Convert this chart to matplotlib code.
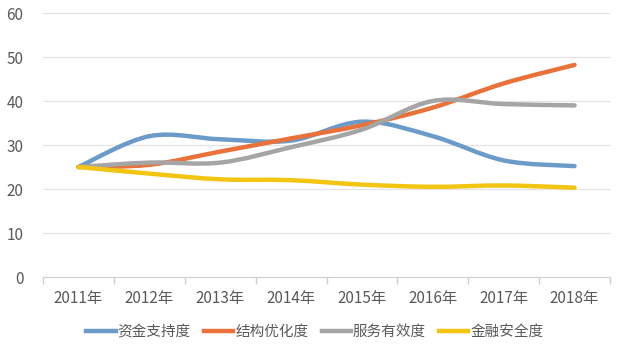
import matplotlib
matplotlib.use("Agg")
import matplotlib.pyplot as plt
from matplotlib.path import Path
from matplotlib.patches import PathPatch
from matplotlib.lines import Line2D
import numpy as np

plt.rcParams['font.family'] = ['Noto Sans CJK SC', 'DejaVu Sans']

years = ["2011年", "2012年", "2013年", "2014年", "2015年", "2016年", "2017年", "2018年"]
zijin = [25, 32, 31.3, 31, 35.3, 32, 26.5, 25.2]
jiegou = [25, 25.5, 28.5, 31.5, 34.5, 38.5, 44, 48.2]
fuwu = [25, 26, 26, 29.5, 33.5, 40, 39.3, 39]
jinrong = [25, 23.5, 22.2, 22, 21, 20.5, 20.8, 20.3]

names = ["资金支持度", "结构优化度", "服务有效度", "金融安全度"]
colors = ["#6B9BC8", "#E8723A", "#A5A5A5", "#F2C512"]


def smooth_path(xs, ys):
    # excel-like smoothed line: cubic bezier through each point
    pts = np.column_stack([xs, ys]).astype(float)
    n = len(pts)
    verts = [pts[0]]
    codes = [Path.MOVETO]
    for i in range(n - 1):
        p0 = pts[i - 1] if i > 0 else pts[i]
        p1 = pts[i]
        p2 = pts[i + 1]
        p3 = pts[i + 2] if i + 2 < n else pts[i + 1]
        c1 = p1 + (p2 - p0) / 6.0
        c2 = p2 - (p3 - p1) / 6.0
        verts += [c1, c2, p2]
        codes += [Path.CURVE4] * 3
    return Path(verts, codes)


fig = plt.figure(figsize=(6.4, 3.49), dpi=100)
ax = fig.add_axes([43 / 640, 72 / 349, 567 / 640, 264 / 349])

x = np.arange(len(years))
series = [zijin, jiegou, fuwu, jinrong]
for vals, c, nm in zip(series, colors, names):
    patch = PathPatch(smooth_path(x, vals), facecolor="none", edgecolor=c,
                      lw=3.2, capstyle="round", joinstyle="round", zorder=3)
    ax.add_patch(patch)

ax.set_xlim(-0.5, 7.5)
ax.set_ylim(0, 60)
ax.set_yticks(range(0, 61, 10))
ax.set_xticks(x)
ax.set_xticklabels(years)
ax.set_xticks(np.arange(-0.5, 8, 1), minor=True)
ax.tick_params(axis="x", which="major", length=0, pad=9, labelsize=11, labelcolor="#595959")
ax.tick_params(axis="x", which="minor", length=5, color="#D0D0D0", width=1)
ax.tick_params(axis="y", length=0, pad=14, labelsize=11, labelcolor="#595959")
ax.grid(axis="y", color="#E3E3E3", lw=0.9)
ax.set_axisbelow(True)
for s in ["top", "right", "left"]:
    ax.spines[s].set_visible(False)
ax.spines["bottom"].set_color("#D0D0D0")

handles = [Line2D([0], [0], color=c, lw=3.2) for c in colors]
fig.legend(handles, names, loc="center", bbox_to_anchor=(315 / 640, 17 / 349), ncol=4,
           frameon=False, fontsize=10.5, handlelength=2.0, handletextpad=0.15,
           columnspacing=0.9, labelcolor="#595959")

fig.savefig("out.png", dpi=100)
